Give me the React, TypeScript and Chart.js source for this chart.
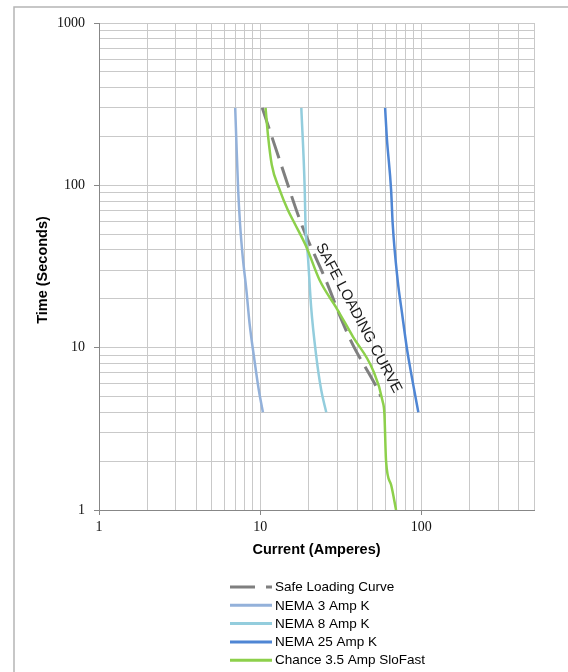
import { useEffect, useRef } from "react";
import { Chart, registerables } from "chart.js";

Chart.register(...registerables);

// ---------- data ----------
const seriesNames = [
  "Safe Loading Curve",
  "NEMA 3 Amp K",
  "NEMA 8 Amp K",
  "NEMA 25 Amp K",
  "Chance 3.5 Amp SloFast",
];

const safeCurrent = [10.3, 13.5, 18, 26, 32, 37.6, 53.7, 56];
const safeTime = [300, 134, 58, 25, 14.8, 10.4, 5.5, 5.0];

const nema3Current = [7.0, 7.1, 7.3, 7.5, 7.8, 8.2, 8.6, 9.15, 9.8, 10.4];
const nema3Time = [300, 200, 94, 58, 36, 23, 14, 8.8, 5.5, 4.0];

const nema8Current = [18.0, 18.9, 19.1, 19.8, 20.7, 22.3, 23.9, 25.7];
const nema8Time = [300, 94, 58, 36, 17.9, 8.8, 5.5, 4.0];

const nema25Current = [59.6, 61.0, 64.9, 66.4, 71.3, 75.9, 81.1, 84.3, 95.8];
const nema25Time = [300, 200, 94, 58, 26, 16.3, 10.1, 8.0, 4.0];

const chanceCurrent = [10.8, 11.2, 11.8, 13.2, 14.8, 16.4, 19.3, 23.4, 30, 37.6, 50, 57.6, 59, 60.4, 64.9, 69.7];
const chanceTime = [300, 200, 134, 94, 71, 58, 42, 26, 17.3, 11.7, 7.3, 4.65, 3.9, 2.0, 1.43, 1.0];

const xMajorTicks = [1, 10, 100];
const yMajorTicks = [1, 10, 100, 1000];
const gridMultipliers = [1, 2, 3, 4, 5, 6, 7, 8, 9];
const xMax = 500;
const yMax = 1000;

const axisTitleX = "Current (Amperes)";
const axisTitleY = "Time (Seconds)";
const annotationText = "SAFE LOADING CURVE";
const annotationCurrent = 40.8;
const annotationTime = 15.2;

// ---------- helpers ----------
function gridValues(majors: number[], max: number): number[] {
  const out: number[] = [];
  for (const d of majors) {
    for (const m of gridMultipliers) {
      const v = Math.round(d * m * 1000) / 1000;
      if (v <= max) out.push(v);
    }
  }
  if (!out.includes(max)) out.push(max);
  return out;
}

const xGrid = gridValues(xMajorTicks, xMax);
const yGrid = gridValues(yMajorTicks.filter((v) => v < yMax), yMax);

function pts(xs: number[], ys: number[]) {
  return xs.map((x, i) => ({ x, y: ys[i] }));
}

const SANS = '"Liberation Sans", Arial, sans-serif';
const SERIF = '"Liberation Serif", "Times New Roman", serif';

const decorPlugin = {
  id: "decor",
  afterDatasetsDraw(chart: any) {
    const { ctx, scales } = chart;
    const x = scales.x;
    const y = scales.y;
    ctx.save();
    ctx.translate(x.getPixelForValue(annotationCurrent), y.getPixelForValue(annotationTime));
    ctx.rotate((62 * Math.PI) / 180);
    ctx.font = `15px ${SANS}`;
    ctx.fillStyle = "#1a1a1a";
    ctx.textAlign = "center";
    ctx.textBaseline = "middle";
    ctx.fillText(annotationText, 0, 0);
    ctx.restore();
  },
  afterDraw(chart: any) {
    const { ctx, chartArea } = chart;
    ctx.save();
    // outer frame (top + left visible)
    ctx.strokeStyle = "#b5b5b5";
    ctx.lineWidth = 1.5;
    ctx.beginPath();
    ctx.moveTo(14, 700);
    ctx.lineTo(14, 7);
    ctx.lineTo(600, 7);
    ctx.stroke();

    // axis titles
    ctx.fillStyle = "#000";
    ctx.font = `bold 14.5px ${SANS}`;
    ctx.textAlign = "center";
    ctx.textBaseline = "middle";
    ctx.fillText(axisTitleX, (chartArea.left + chartArea.right) / 2, 550);
    ctx.save();
    ctx.translate(43, 270);
    ctx.rotate(-Math.PI / 2);
    ctx.fillText(axisTitleY, 0, 0);
    ctx.restore();

    // legend
    const ds = chart.data.datasets;
    ctx.font = `13.5px ${SANS}`;
    ctx.textAlign = "left";
    ds.forEach((d: any, i: number) => {
      const yy = 587 + i * 18.3;
      ctx.save();
      ctx.strokeStyle = d.borderColor;
      ctx.lineWidth = 3;
      ctx.setLineDash(d.borderDash && d.borderDash.length ? [25, 11] : []);
      ctx.beginPath();
      ctx.moveTo(230, yy);
      ctx.lineTo(272, yy);
      ctx.stroke();
      ctx.restore();
      ctx.fillStyle = "#000";
      ctx.fillText(d.label, 275, yy + 0.5);
    });
    ctx.restore();
  },
};

export default function App() {
  const ref = useRef<HTMLCanvasElement | null>(null);

  useEffect(() => {
    if (!ref.current) return;
    const common = {
      showLine: true,
      pointRadius: 0,
      pointHoverRadius: 0,
      fill: false,
      cubicInterpolationMode: "monotone" as const,
    };
    const chart = new Chart(ref.current, {
      type: "scatter",
      data: {
        datasets: [
          {
            ...common,
            label: seriesNames[0],
            data: pts(safeCurrent, safeTime),
            borderColor: "#7f7f7f",
            borderWidth: 3,
            borderDash: [22, 9],
            order: 4,
          },
          {
            ...common,
            label: seriesNames[1],
            data: pts(nema3Current, nema3Time),
            borderColor: "#93b1da",
            borderWidth: 2.5,
            order: 3,
          },
          {
            ...common,
            label: seriesNames[2],
            data: pts(nema8Current, nema8Time),
            borderColor: "#93cddd",
            borderWidth: 2.5,
            order: 2,
          },
          {
            ...common,
            label: seriesNames[3],
            data: pts(nema25Current, nema25Time),
            borderColor: "#4f86d4",
            borderWidth: 2.5,
            order: 1,
          },
          {
            ...common,
            label: seriesNames[4],
            data: pts(chanceCurrent, chanceTime),
            borderColor: "#8dd04b",
            borderWidth: 2.5,
            order: 0,
          },
        ],
      },
      options: {
        animation: false,
        responsive: true,
        maintainAspectRatio: false,
        events: [],
        layout: { padding: { left: 0, top: 23, right: 34, bottom: 132 } },
        plugins: {
          legend: { display: false },
          tooltip: { enabled: false },
          title: { display: false },
        },
        scales: {
          x: {
            type: "logarithmic",
            min: 1,
            max: xMax,
            afterBuildTicks: (scale: any) => {
              scale.ticks = xGrid.map((v) => ({ value: v }));
            },
            afterFit: (scale: any) => {
              scale.height = 30;
            },
            border: { display: true, color: "#878787", width: 1 },
            grid: {
              color: "#c9c9c9",
              lineWidth: 1,
              drawTicks: true,
              tickLength: 5,
              tickColor: (c: any) =>
                c.tick && xMajorTicks.includes(c.tick.value) ? "#878787" : "rgba(0,0,0,0)",
            },
            ticks: {
              autoSkip: false,
              maxRotation: 0,
              minRotation: 0,
              padding: 4,
              color: "#111",
              font: { family: SERIF, size: 14 },
              callback: (v: any) => (xMajorTicks.includes(Number(v)) ? String(v) : ""),
            },
          },
          y: {
            type: "logarithmic",
            min: 1,
            max: yMax,
            afterBuildTicks: (scale: any) => {
              scale.ticks = yGrid.map((v) => ({ value: v }));
            },
            afterFit: (scale: any) => {
              scale.width = 99;
            },
            border: { display: true, color: "#878787", width: 1 },
            grid: {
              color: "#c9c9c9",
              lineWidth: 1,
              drawTicks: true,
              tickLength: 5,
              tickColor: (c: any) =>
                c.tick && yMajorTicks.includes(c.tick.value) ? "#878787" : "rgba(0,0,0,0)",
            },
            ticks: {
              autoSkip: false,
              padding: 9,
              color: "#111",
              font: { family: SERIF, size: 14 },
              callback: (v: any) => (yMajorTicks.includes(Number(v)) ? String(v) : ""),
            },
          },
        },
      },
      plugins: [decorPlugin],
    });
    return () => chart.destroy();
  }, []);

  return (
    <div style={{ position: "absolute", left: 0, top: 0, width: 568, height: 672, background: "#fff" }}>
      <canvas ref={ref} />
    </div>
  );
}
